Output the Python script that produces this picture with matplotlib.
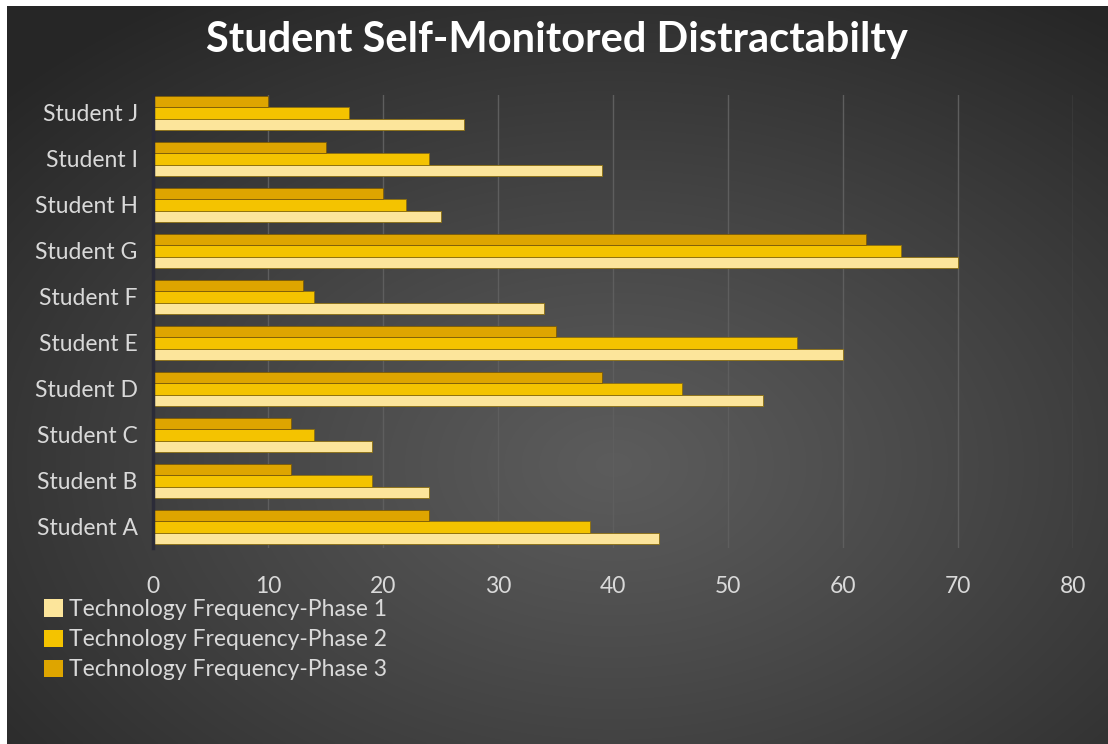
import numpy as np
import matplotlib
matplotlib.use("Agg")
import matplotlib.pyplot as plt
from matplotlib.patches import Patch

# Data
students = ['Student A', 'Student B', 'Student C', 'Student D', 'Student E',
            'Student F', 'Student G', 'Student H', 'Student I', 'Student J']
phase1 = [44, 24, 19, 53, 60, 34, 70, 25, 39, 27]
phase2 = [38, 19, 14, 46, 56, 14, 65, 22, 24, 17]
phase3 = [24, 12, 12, 39, 35, 13, 62, 20, 15, 10]
series_names = ['Technology Frequency-Phase 1',
                'Technology Frequency-Phase 2',
                'Technology Frequency-Phase 3']
x_ticks = [0, 10, 20, 30, 40, 50, 60, 70, 80]

colors = ['#FCE59B', '#F4C300', '#DEA500']
text_col = '#D9D9D9'
plt.rcParams['font.family'] = ['Lato', 'DejaVu Sans']

W, H = 1108, 744
fig = plt.figure(figsize=(W / 100, H / 100), dpi=100, facecolor='white')

# dark radial-gradient background (white margin at top and left)
bg = fig.add_axes([7 / W, 0, 1 - 7 / W, 1 - 6 / H])
yy, xx = np.mgrid[0:300, 0:450]
cx, cy = 0.55 * 450, 0.62 * 300
r = np.sqrt(((xx - cx) / 450) ** 2 + ((yy - cy) / 300) ** 2)
r = np.clip(r / 0.75, 0, 1)
shade = 0.36 - 0.21 * r ** 1.1
img = np.dstack([shade, shade, shade])
bg.imshow(img, aspect='auto', extent=[0, 1, 0, 1], interpolation='bilinear')
bg.axis('off')

ax = fig.add_axes([153 / W, 1 - 548 / H, (1073 - 153) / W, (548 - 95) / H])
ax.set_facecolor('none')

y = np.arange(len(students))
h = 0.25
ax.barh(y - h, phase1, height=h, color=colors[0], edgecolor='#8a6d10', linewidth=0.6, zorder=3)
ax.barh(y, phase2, height=h, color=colors[1], edgecolor='#8a6d10', linewidth=0.6, zorder=3)
ax.barh(y + h, phase3, height=h, color=colors[2], edgecolor='#7a5a08', linewidth=0.6, zorder=3)

ax.set_xlim(0, 80)
ax.set_ylim(-0.46, 9.39)
ax.set_xticks(x_ticks)
ax.set_yticks(y)
ax.set_yticklabels(students)
ax.grid(axis='x', color='#5e5e5e', linewidth=1.0, zorder=0)
ax.set_axisbelow(True)
for s in ['top', 'right', 'bottom']:
    ax.spines[s].set_visible(False)
ax.spines['left'].set_color('#2b2b38')
ax.spines['left'].set_linewidth(2.5)
ax.spines['left'].set_zorder(4)
ax.tick_params(axis='both', length=0, labelsize=16.5, labelcolor=text_col)
ax.tick_params(axis='x', pad=20)
ax.tick_params(axis='y', pad=11)

fig.text(0.503, 1 - 40 / H, 'Student Self-Monitored Distractabilty', ha='center', va='center',
         fontsize=30, fontweight='bold', color='white')

handles = [Patch(facecolor=c, edgecolor='none') for c in colors]
fig.legend(handles, series_names, loc='upper left', bbox_to_anchor=(35 / W, 1 - 590 / H),
           frameon=False, fontsize=16.5, labelcolor=text_col, handlelength=0.8, handleheight=0.8,
           handletextpad=0.3, labelspacing=0.4, borderaxespad=0)

fig.savefig('out.png', dpi=100, facecolor=fig.get_facecolor())
